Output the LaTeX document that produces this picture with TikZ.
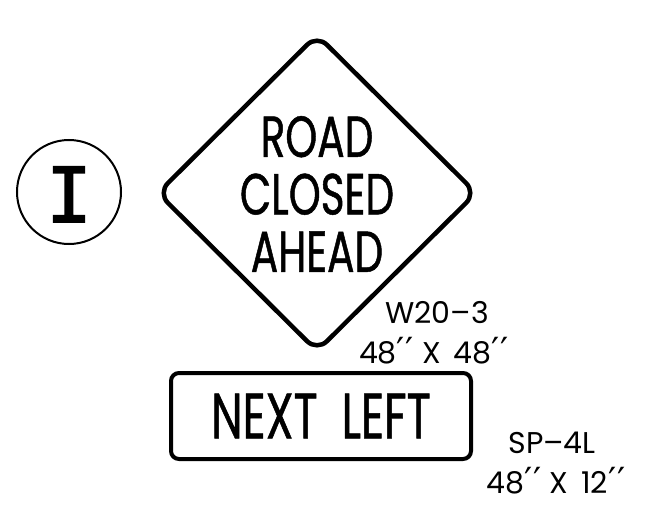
\documentclass[tikz,border=0pt]{standalone}
\usepackage{fontspec}
\setmainfont{Poppins}
\newfontfamily\signfont[FakeStretch=0.7, FakeBold=0.8]{Poppins}
\newfontfamily\markfont[FakeBold=2]{DejaVu Sans Mono}
\newfontfamily\primefont{DejaVu Sans}
\newcommand{\inch}{{\fontsize{36}{36}\primefont ′\kern1pt′}}
\usetikzlibrary{shapes.geometric}
\tikzset{
  label text/.style={anchor=base, font=\fontsize{30}{30}\selectfont},
  sign text/.style={align=center, font=\fontsize{58}{57.5}\signfont}
}
\begin{document}
\begin{tikzpicture}[x=1pt, y=-1pt]
    \useasboundingbox (0,0) rectangle (652,508);
    % phase marker
    \node[draw, circle, line width=2pt, minimum size=104pt, inner sep=0pt] (C) at (69,192) {};
    \node[anchor=base] (CI) at (69,222) {\fontsize{76}{76}\markfont I};
    % warning sign
    \node[draw, diamond, line width=4.5pt, rounded corners=14pt, minimum width=320pt,
          minimum height=318pt, inner sep=0pt] (W) at (317,193) {};
    \node[sign text] (WT) at ([yshift=-1pt]W.center) {ROAD\\CLOSED\\AHEAD};
    \node[label text] (W1) at (437,323) {W20–3};
    \node[label text] (W2) at (434,363) {48\inch{} X\, 48\inch};
    % supplemental plate
    \node[draw, rectangle, line width=4pt, rounded corners=8pt, minimum width=300pt,
          minimum height=86pt, inner sep=0pt, font=\fontsize{64}{64}\signfont] (P) at (321,416) {NEXT\ \ LEFT};
    \node[label text] (P1) at (552,453) {SP–4L};
    \node[label text] (P2) at (556,493) {48\inch{} X\, 12\inch};
\end{tikzpicture}
\end{document}
